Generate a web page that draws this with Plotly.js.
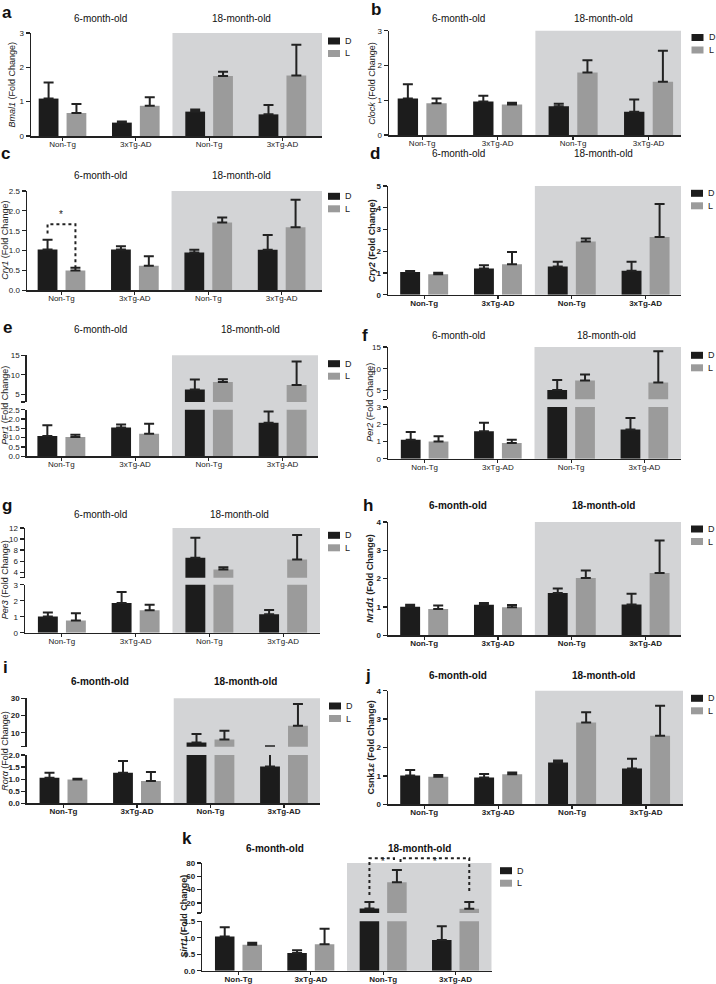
<!DOCTYPE html>
<html><head><meta charset="utf-8">
<script src="https://cdn.plot.ly/plotly-3.0.1.min.js"></script>
<style>html,body{margin:0;padding:0;background:#fff}#chart{width:716px;height:984px}</style>
</head><body><div id="chart"></div>
<script>
// ---------- DATA ----------
const groups = ["Non-Tg", "3xTg-AD", "Non-Tg", "3xTg-AD"];
const ages = ["6-month-old", "18-month-old"];
const seriesNames = ["D", "L"];

const Bmal1_D = [1.09, 0.39, 0.71, 0.63];
const Bmal1_D_err = [0.47, 0.03, 0.06, 0.27];
const Bmal1_L = [0.67, 0.88, 1.75, 1.76];
const Bmal1_L_err = [0.26, 0.25, 0.12, 0.90];

const Clock_D = [1.05, 0.96, 0.83, 0.67];
const Clock_D_err = [0.41, 0.17, 0.07, 0.35];
const Clock_L = [0.91, 0.88, 1.80, 1.53];
const Clock_L_err = [0.14, 0.05, 0.35, 0.89];

const Cry1_D = [1.03, 1.03, 0.95, 1.02];
const Cry1_D_err = [0.24, 0.08, 0.07, 0.37];
const Cry1_L = [0.50, 0.62, 1.71, 1.59];
const Cry1_L_err = [0.07, 0.24, 0.12, 0.69];

const Cry2_D = [1.04, 1.20, 1.30, 1.10];
const Cry2_D_err = [0.05, 0.15, 0.22, 0.42];
const Cry2_L = [0.94, 1.40, 2.45, 2.65];
const Cry2_L_err = [0.07, 0.56, 0.13, 1.52];

const Per1_D = [1.09, 1.55, 6.2, 1.80];
const Per1_D_err = [0.57, 0.16, 2.56, 0.61];
const Per1_L = [1.04, 1.21, 8.16, 7.4];
const Per1_L_err = [0.12, 0.54, 0.69, 6.0];

const Per2_D = [1.10, 1.59, 5.15, 1.70];
const Per2_D_err = [0.45, 0.50, 2.3, 0.66];
const Per2_L = [1.00, 0.91, 7.3, 6.85];
const Per2_L_err = [0.30, 0.19, 1.4, 7.2];

const Per3_D = [1.02, 1.85, 6.6, 1.15];
const Per3_D_err = [0.25, 0.69, 3.64, 0.27];
const Per3_L = [0.77, 1.40, 4.48, 6.3];
const Per3_L_err = [0.44, 0.35, 0.42, 4.43];

const Nr1d1_D = [1.01, 1.08, 1.49, 1.09];
const Nr1d1_D_err = [0.07, 0.06, 0.16, 0.38];
const Nr1d1_L = [0.93, 0.99, 2.02, 2.20];
const Nr1d1_L_err = [0.12, 0.08, 0.27, 1.15];

const Rora_D = [1.06, 1.27, 4.4, 1.52];
const Rora_D_err = [0.20, 0.48, 4.9, 0.78];
const Rora_L = [0.99, 0.92, 6.2, 14.1];
const Rora_L_err = [0.03, 0.38, 5.0, 12.6];

const Csnk1e_D = [1.01, 0.94, 1.47, 1.26];
const Csnk1e_D_err = [0.20, 0.13, 0.07, 0.34];
const Csnk1e_L = [0.97, 1.06, 2.88, 2.41];
const Csnk1e_L_err = [0.06, 0.06, 0.36, 1.06];

const Sirt1_D = [1.04, 0.54, 11.8, 0.93];
const Sirt1_D_err = [0.28, 0.08, 9.6, 0.42];
const Sirt1_L = [0.79, 0.80, 51.2, 11.3];
const Sirt1_L_err = [0.06, 0.47, 18.2, 10.1];

// ---------- STYLE / LAYOUT ----------
const W = 716, H = 984;
const FONT = 'Arial, "Liberation Sans", Helvetica, sans-serif';
const COL_D = '#1c1c1c', COL_L = '#9b9b9b', SHADE = '#d3d4d6', AX = '#222';
const px2x = v => v / W, px2y = v => 1 - v / H;
const zeros = groups.map(() => 0);
const xpos = groups.map((g, j) => j);
const f1 = '.1f';

const panels = [
  {letter:'a', name:'<i>Bmal1</i> (Fold Change)', D:Bmal1_D, De:Bmal1_D_err, Lv:Bmal1_L, Le:Bmal1_L_err,
   l:31, r:322, xr:[-0.43,3.54], segs:[{t:33,b:136,range:[0,3],tv:[0,1,2,3]}],
   lp:[7,12], ageY:18.5, ageX:[100,241], ytX:11, leg:[334,41], bold:false, ageBold:false},
  {letter:'b', name:'<i>Clock</i> (Fold Change)', D:Clock_D, De:Clock_D_err, Lv:Clock_L, Le:Clock_L_err,
   l:389, r:681, xr:[-0.44,3.43], segs:[{t:30.7,b:135,range:[0,3],tv:[0,1,2,3]}],
   lp:[376,10], ageY:18.5, ageX:[458,603], ytX:372, leg:[697.5,37.5], bold:false, ageBold:false},
  {letter:'c', name:'<i>Cry1</i> (Fold Change)', D:Cry1_D, De:Cry1_D_err, Lv:Cry1_L, Le:Cry1_L_err,
   l:27, r:322, xr:[-0.47,3.55], segs:[{t:191,b:290.3,range:[0,2.5],tv:[0,0.5,1,1.5,2,2.5],fmt:f1}],
   lp:[5,153], ageY:175.5, ageX:[100,241], ytX:5, leg:[334,196.3], bold:false, ageBold:false},
  {letter:'d', name:'<b><i>Cry2</i> (Fold Change)</b>', D:Cry2_D, De:Cry2_D_err, Lv:Cry2_L, Le:Cry2_L_err,
   l:388, r:681, xr:[-0.49,3.48], segs:[{t:186,b:294.7,range:[0,5],tv:[0,1,2,3,4,5]}],
   lp:[375,153], ageY:153, ageX:[458,603], ytX:372, leg:[697,193.3], bold:true, ageBold:false},
  {letter:'e', name:'<i>Per1</i> (Fold Change)', D:Per1_D, De:Per1_D_err, Lv:Per1_L, Le:Per1_L_err,
   l:26.7, r:318, xr:[-0.47,3.48],
   segs:[{t:409.7,b:456.3,range:[0,2.5],tv:[0,0.5,1,1.5,2,2.5],fmt:f1},
         {t:355.3,b:402,range:[3,15],tv:[3,5,10,15],tt:['','5','10','15']}],
   lp:[7,328], ageY:329, ageX:[100,250], ytX:5, leg:[334,363.7], bold:false, ageBold:false},
  {letter:'f', name:'<i>Per2</i> (Fold Change)', D:Per2_D, De:Per2_D_err, Lv:Per2_L, Le:Per2_L_err,
   l:388, r:681, xr:[-0.5,3.5],
   segs:[{t:407,b:458.7,range:[0,3],tv:[0,1,2,3]},
         {t:347,b:399.3,range:[3,15],tv:[3,5,10,15],tt:['','5','10','15']}],
   lp:[365,335], ageY:335, ageX:[458,606], ytX:370, leg:[697,355.3], bold:false, ageBold:false},
  {letter:'g', name:'<i>Per3</i> (Fold Change)', D:Per3_D, De:Per3_D_err, Lv:Per3_L, Le:Per3_L_err,
   l:25, r:320, xr:[-0.5,3.5],
   segs:[{t:584.7,b:632.7,range:[0,3],tv:[0,1,2,3]},
         {t:528,b:577.7,range:[3,12],tv:[3,4,6,8,10,12],tt:['','4','6','8','10','12']}],
   lp:[7,505], ageY:514, ageX:[100,240], ytX:5, leg:[334,535.3], bold:false, ageBold:false},
  {letter:'h', name:'<b><i>Nr1d1</i> (Fold Change)</b>', D:Nr1d1_D, De:Nr1d1_D_err, Lv:Nr1d1_L, Le:Nr1d1_L_err,
   l:388, r:681, xr:[-0.49,3.48], segs:[{t:522,b:635.3,range:[0,4],tv:[0,1,2,3,4]}],
   lp:[368,505], ageY:505, ageX:[458,603], ytX:370, leg:[697,529], bold:true, ageBold:true},
  {letter:'i', name:'<i>Rorα</i> (Fold Change)', D:Rora_D, De:Rora_D_err, Lv:Rora_L, Le:Rora_L_err,
   l:26.7, r:320, xr:[-0.5,3.49],
   segs:[{t:755,b:803.3,range:[0,2],tv:[0,0.5,1,1.5,2],fmt:f1},
         {t:698.3,b:746.7,range:[2,30],tv:[2,10,20,30],tt:['','10','20','30']}],
   lp:[5,667], ageY:681, ageX:[100,245], ytX:5, leg:[335,706], bold:true, ageBold:true},
  {letter:'j', name:'<b>Csnk1<i>ε</i> (Fold Change)</b>', D:Csnk1e_D, De:Csnk1e_D_err, Lv:Csnk1e_L, Le:Csnk1e_L_err,
   l:388, r:683, xr:[-0.49,3.5], segs:[{t:690.7,b:804.3,range:[0,4],tv:[0,1,2,3,4]}],
   lp:[368,675], ageY:675, ageX:[458,603], ytX:370, leg:[697,698.3], bold:true, ageBold:true},
  {letter:'k', name:'<b><i>Sirt1</i> (Fold Change)</b>', D:Sirt1_D, De:Sirt1_D_err, Lv:Sirt1_L, Le:Sirt1_L_err,
   l:202.3, r:491.7, xr:[-0.5,3.5],
   segs:[{t:921.3,b:970.7,range:[0,1.5],tv:[0,0.5,1,1.5],fmt:f1},
         {t:863,b:913,range:[5,80],tv:[5,20,40,60,80],tt:['','20','40','60','80']}],
   lp:[187,838], ageY:848, ageX:[275,419], ytX:184, leg:[506,870.7], bold:true, ageBold:true}
];

const traces = [];
const layout = {
  width: W, height: H, margin: {l:0, r:0, t:0, b:0},
  paper_bgcolor: '#fff', plot_bgcolor: 'rgba(0,0,0,0)',
  barmode: 'group', bargap: 0.24, bargroupgap: 0.29,
  font: {family: FONT, size: 9, color: AX},
  showlegend: false,
  hovermode: false, shapes: [], annotations: []
};

let yc = 0;
const axisIds = [];
panels.forEach((p, i) => {
  const n = i + 1, xs = n === 1 ? '' : String(n), xid = 'x' + xs;
  const fw = p.bold ? 'bold' : 'normal';
  const yids = [];
  p.segs.forEach((s, k) => {
    yc++;
    const ys = yc === 1 ? '' : String(yc), yid = 'y' + ys;
    yids.push(yid);
    const ya = {domain:[px2y(s.b), px2y(s.t)], range:s.range, anchor:xid, tickvals:s.tv,
      ticks:'outside', ticklen:4, tickwidth:1.2, tickcolor:AX, showline:true, linecolor:AX, linewidth:1.5,
      showgrid:false, zeroline:false, tickfont:{size:8, weight:fw, color:AX}, fixedrange:true};
    if (s.tt) ya.ticktext = s.tt;
    if (s.fmt) ya.tickformat = s.fmt;
    layout['yaxis' + ys] = ya;
    [[seriesNames[0], p.D, p.De, COL_D], [seriesNames[1], p.Lv, p.Le, COL_L]].forEach(([nm, v, e, c]) => {
      // in an upper (broken-axis) segment, only show whiskers that reach that segment
      const ev = k === 0 ? e : e.map((d, j) => (v[j] + d > s.range[0]) ? d : NaN);
      traces.push({type:'bar', name:nm, x:xpos, y:v, xaxis:xid, yaxis:yid,
        marker:{color:c, line:{width:0}},
        error_y:{type:'data', symmetric:false, array:ev, arrayminus:zeros, color:AX, thickness:2, width:5},
        showlegend:false, hoverinfo:'skip'});
    });
  });
  axisIds.push({xid, yids});
  layout['xaxis' + xs] = {domain:[px2x(p.l), px2x(p.r)], range:p.xr, anchor:yids[0], tickvals:xpos, ticktext:groups,
    ticks:'outside', ticklen:3, tickwidth:1.2, tickcolor:AX, showline:true, linecolor:AX, linewidth:1.5,
    ticklabelstandoff:-3,
    showgrid:false, zeroline:false, tickfont:{size:8, weight:fw, color:AX}, fixedrange:true};
  // legend key (D / L)
  [[seriesNames[0], COL_D], [seriesNames[1], COL_L]].forEach(([nm, c], j) => {
    const cy = p.leg[1] + j * 12.5, cx = p.leg[0];
    layout.shapes.push({type:'rect', xref:'paper', yref:'paper', x0:px2x(cx - 6), x1:px2x(cx + 6),
      y0:px2y(cy + 3.5), y1:px2y(cy - 3.5), fillcolor:c, line:{width:0}});
    layout.annotations.push({text:nm, xref:'paper', yref:'paper', x:px2x(cx + 9), y:px2y(cy),
      xanchor:'left', yanchor:'middle', showarrow:false, font:{size:9, color:AX}});
  });
  const top = p.segs[p.segs.length - 1].t, bot = p.segs[0].b;
  layout.shapes.push({type:'rect', xref:xid, yref:'paper', x0:1.5, x1:p.xr[1], y0:px2y(bot), y1:px2y(top),
    fillcolor:SHADE, line:{width:0}, layer:'below'});
  layout.annotations.push({text:'<b>' + p.letter + '</b>', xref:'paper', yref:'paper', x:px2x(p.lp[0]), y:px2y(p.lp[1]),
    showarrow:false, xanchor:'center', yanchor:'middle', font:{size:17, color:'#111'}});
  ages.forEach((a, j) => {
    layout.annotations.push({text:p.ageBold ? '<b>' + a + '</b>' : a, xref:'paper', yref:'paper', x:px2x(p.ageX[j]), y:px2y(p.ageY),
      showarrow:false, xanchor:'center', yanchor:'middle', font:{size:10, color:'#111'}});
  });
  layout.annotations.push({text:p.name, xref:'paper', yref:'paper', x:px2x(p.ytX), y:px2y((top + bot) / 2),
    textangle:-90, showarrow:false, xanchor:'center', yanchor:'middle', font:{size:9, color:AX}});
});

// significance marks
const sigLine = {color:AX, width:2, dash:'dot'};
// panel c (Cry1)
const cIds = axisIds[2];
layout.shapes.push({type:'path', xref:cIds.xid, yref:cIds.yids[0],
  path:'M-0.19,1.43 L-0.19,1.66 L0.19,1.66 L0.19,0.57', line:sigLine});
layout.annotations.push({text:'*', xref:cIds.xid, yref:cIds.yids[0], x:0, y:1.9, showarrow:false, font:{size:10, color:AX}});
// panel k (Sirt1) — above the upper axis segment, use domain fractions of that axis
const kIds = axisIds[10];
const kUp = panels[10].segs[1].range;
const dom = v => (v - kUp[0]) / (kUp[1] - kUp[0]);
const kyref = kIds.yids[1] + ' domain';
layout.shapes.push({type:'path', xref:kIds.xid, yref:kyref,
  path:`M1.81,${dom(32)} L1.81,${dom(87)} L2.15,${dom(87)} L2.15,${dom(81.5)}`, line:sigLine});
layout.shapes.push({type:'path', xref:kIds.xid, yref:kyref,
  path:`M2.24,${dom(81.5)} L2.24,${dom(87)} L3.19,${dom(87)} L3.19,${dom(34.5)}`, line:sigLine});
layout.annotations.push({text:'*', xref:kIds.xid, yref:kyref, x:2.0, y:dom(93.5), showarrow:false, font:{size:10, color:AX}});
layout.annotations.push({text:'*', xref:kIds.xid, yref:kyref, x:2.72, y:dom(93.5), showarrow:false, font:{size:10, color:AX}});

Plotly.newPlot('chart', traces, layout, {displayModeBar:false, staticPlot:true});
</script>
</body></html>
